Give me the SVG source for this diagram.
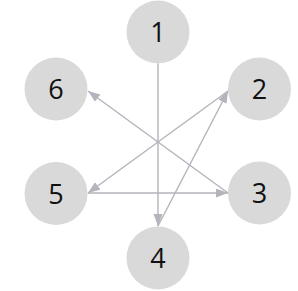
<svg xmlns="http://www.w3.org/2000/svg" width="298" height="291" viewBox="0 0 298 291">
<defs>
<style>
.node circle{fill:#d9d9d9}
.node text{font-family:"Open Sans","Lato","Liberation Sans",sans-serif;font-size:27px;font-weight:400;fill:#111111;text-anchor:middle}
.edge{stroke:#b3b4bc;stroke-width:1.4;fill:none;marker-end:url(#ah)}
</style>
<marker id="ah" markerUnits="userSpaceOnUse" markerWidth="13" markerHeight="10" refX="12" refY="4.5" orient="auto" viewBox="0 0 13 10">
<path d="M0,0 L12,4.5 L0,9 z" fill="#b3b4bc"/>
</marker>
</defs>
<rect width="298" height="291" fill="#ffffff"/>
<g id="node1" class="node"><circle cx="158" cy="32" r="31.5"/><text x="158" y="42">1</text></g>
<g id="node2" class="node"><circle cx="259.5" cy="89" r="31.5"/><text x="259.5" y="99">2</text></g>
<g id="node3" class="node"><circle cx="259.5" cy="193" r="31.5"/><text x="259.5" y="203">3</text></g>
<g id="node4" class="node"><circle cx="158" cy="258" r="31.5"/><text x="158" y="268">4</text></g>
<g id="node5" class="node"><circle cx="56" cy="193.5" r="31.5"/><text x="56" y="203.5">5</text></g>
<g id="node6" class="node"><circle cx="56" cy="89" r="31.5"/><text x="56" y="99">6</text></g>
<g id="connectors">
<line class="edge" x1="158" y1="63.5" x2="158" y2="226"/>
<line class="edge" x1="158" y1="226" x2="228" y2="91"/>
<line class="edge" x1="228" y1="91" x2="88" y2="193"/>
<line class="edge" x1="88" y1="193" x2="228" y2="193"/>
<line class="edge" x1="228" y1="193" x2="88" y2="91"/>
</g>
</svg>
